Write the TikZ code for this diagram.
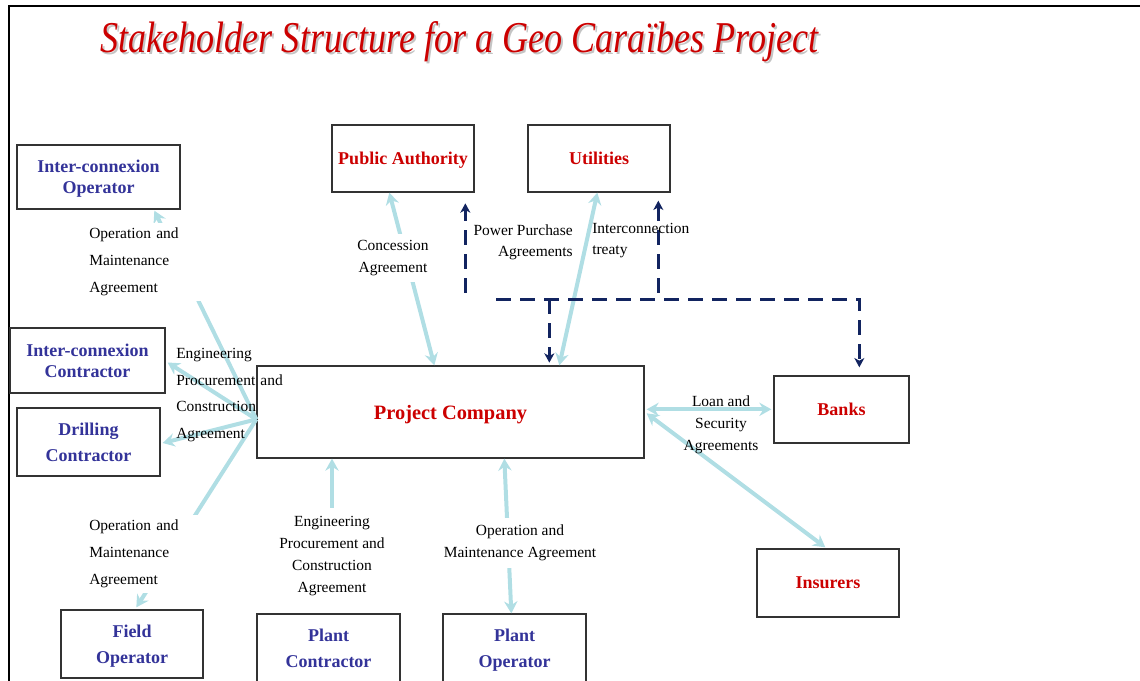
\documentclass[tikz,border=0pt]{standalone}
\usepackage{fontspec}
\setmainfont{Liberation Serif}
\usepackage{graphicx}
\usetikzlibrary{arrows.meta,calc}

\definecolor{tred}{RGB}{204,0,0}
\definecolor{tblue}{RGB}{51,51,153}
\definecolor{linkc}{RGB}{176,222,228}
\definecolor{navy}{RGB}{18,36,96}
\definecolor{shade}{RGB}{196,196,196}

\newcommand\stkTitle{\resizebox{538.5pt}{\height}{\fontsize{33}{33}\selectfont\itshape Stakeholder Structure for a Geo Caraïbes Project}}

\begin{document}
\begin{tikzpicture}[x=0.75pt,y=-0.75pt,
  party/.style={draw=black!80, line width=1pt, inner sep=0pt, align=center, fill=white, text depth=0pt},
  bluebox/.style={party, text=tblue, font=\fontsize{13.5}{19.5}\selectfont\bfseries},
  tightblue/.style={party, text=tblue, font=\fontsize{13.5}{15.75}\selectfont\bfseries},
  redbox/.style={party, text=tred, font=\fontsize{13.5}{16}\selectfont\bfseries},
  note/.style={inner sep=0pt, font=\fontsize{11.6}{16.5}\selectfont},
  widenote/.style={inner xsep=3pt, inner ysep=4pt, text width=82.5pt, align=left,
    font=\fontsize{11.6}{20.25}\selectfont},
  link/.style={draw=linkc, line width=3pt, >={Stealth[length=9pt,width=10pt,inset=3pt]}},
  navyline/.style={draw=navy, line width=2.6pt, dash pattern=on 11pt off 7pt,
    >={Stealth[length=7pt,width=7.5pt,inset=2pt]}},
]
\useasboundingbox (0,0) rectangle (1140,681);

% slide frame
\draw[line width=2pt] (9,681) -- (9,6) -- (1140,6);

% title with drop shadow
\node[anchor=base west, text=shade, inner sep=0pt] (titleshadow) at (102,55) {\stkTitle};
\node[anchor=base west, text=tred, inner sep=0pt] (title) at (100,53) {\stkTitle};

% parties
\node[tightblue, minimum width=122.25pt, minimum height=48pt] (io) at (98.5,177) {Inter-connexion\\Operator};
\node[redbox, minimum width=106.5pt, minimum height=50.25pt] (pa) at (403,158.5) {Public Authority};
\node[redbox, minimum width=106.5pt, minimum height=50.25pt] (ut) at (599,158.5) {Utilities};
\node[tightblue, minimum width=116.25pt, minimum height=48.75pt] (ic) at (87.5,360.5) {Inter-connexion\\Contractor};
\node[bluebox, minimum width=107.25pt, minimum height=51pt] (dc) at (88.5,442) {Drilling\\Contractor};
\node[redbox, minimum width=290.25pt, minimum height=69pt, font=\fontsize{15.3}{18}\selectfont\bfseries] (pc) at (450.5,412) {Project Company};
\node[redbox, minimum width=101.25pt, minimum height=50.25pt] (bk) at (841.5,409.5) {Banks};
\node[redbox, minimum width=106.5pt, minimum height=51pt] (ins) at (828,583) {Insurers};
\node[bluebox, minimum width=106.5pt, minimum height=51pt] (fo) at (132,644) {Field\\Operator};
\node[bluebox, minimum width=107.25pt, minimum height=51pt] (pco) at (328.5,648) {Plant\\Contractor};
\node[bluebox, minimum width=107.25pt, minimum height=51pt] (po) at (514.5,648) {Plant\\Operator};

% contract links
\coordinate (hub) at ($(pc.north west)+(0,54)$);
\draw[link,->] (hub) -- ($(io.south west)+(138,1)$);
\draw[link,->] (hub) -- ($(ic.east)+(2,2)$);
\draw[link,->] (hub) -- ($(dc.east)+(2,1)$);
\draw[link,->] (hub) -- ($(fo.north west)+(76,-2)$);
\draw[link,<->] ($(pa.south west)+(58,0)$) -- ($(pc.north west)+(178,0)$);
\draw[link,<->] ($(ut.south west)+(70,0)$) -- ($(pc.north west)+(303,0)$);
\draw[link,<->] ($(pc.north east)+(2,44)$) -- ($(bk.north west)+(-2,34)$);
\draw[link,<->] ($(pc.north east)+(2,48)$) -- ($(ins.north west)+(69,-1)$);
\draw[link,<->] ($(pc.south west)+(248,0)$) -- ($(po.north west)+(69,0)$);

% revenue and financing flows
\coordinate (paLow) at ($(pa.south west)+(134,100)$);
\coordinate (utLow) at ($(ut.south west)+(131,100)$);
\coordinate (busStart) at ($(pc.north west)+(240,-66)$);
\coordinate (busEnd) at ($(bk.north west)+(86,-76)$);
\coordinate (busTap) at ($(pc.north west)+(293,-66)$);
\draw[navyline,->,shorten >=8pt] (paLow) -- ($(pa.south west)+(134,0)$);
\draw[navyline,->,shorten >=6pt] (utLow) -- ($(ut.south west)+(131,0)$);
\draw[navyline,->,shorten >=6pt] (busStart) -- (busEnd) -- ($(bk.north west)+(86,0)$);
\draw[navyline,->,shorten >=2pt] (busTap) -- ($(pc.north west)+(293,0)$);

% agreement labels
\node[widenote, fill=white, anchor=west] (omtop) at (85,262) {Operation and\\Maintenance\\Agreement};
\node[widenote, inner sep=0pt, text width=82.5pt, anchor=west, font=\fontsize{11.6}{20}\selectfont] (epcl) at (176,395) {Engineering\\Procurement and\\Construction\\Agreement};
\node[widenote, fill=white, anchor=west] (ombl) at (85,554) {Operation and\\Maintenance\\Agreement};
\node[note, align=center, inner ysep=6pt] (epcb) at (332,556) {Engineering\\Procurement and\\Construction\\Agreement};
\node[note, align=center, fill=white, inner ysep=5pt, inner xsep=2pt] (omb) at (520,543) {Operation and\\Maintenance Agreement};
\node[note, align=center, fill=white, inner ysep=5pt, inner xsep=2pt] (conc) at (393,258) {Concession\\Agreement};
\node[note, align=right, anchor=east, font=\fontsize{11.6}{15.75}\selectfont] (ppa) at (573,242) {Power Purchase\\Agreements};
\node[note, align=left, anchor=west, font=\fontsize{11.6}{15.75}\selectfont] (treaty) at (592,241) {Interconnection\\treaty};
\node[note, align=center] (loan) at (721,425) {Loan and\\Security\\Agreements};

\draw[link,->] (epcb.north) -- (epcb.north |- pc.south);
\end{tikzpicture}
\end{document}
